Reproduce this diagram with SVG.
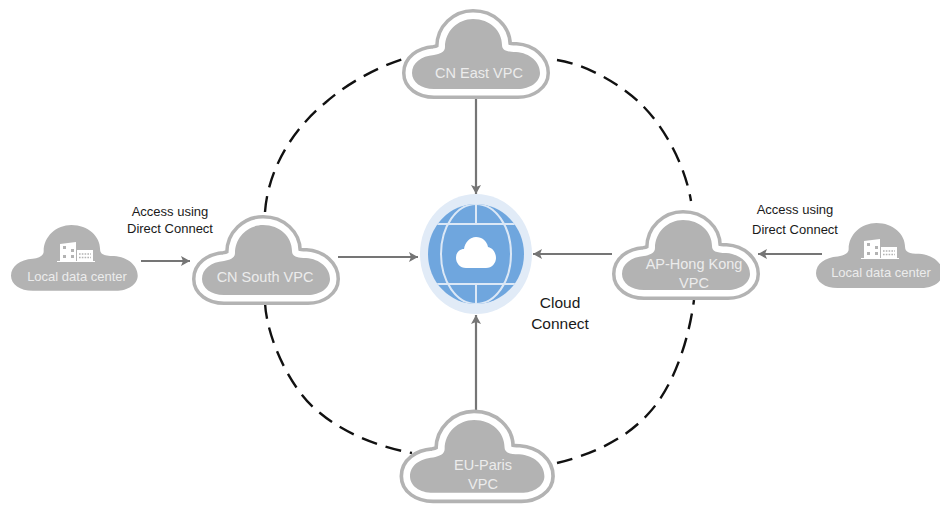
<svg xmlns="http://www.w3.org/2000/svg" width="940" height="505" viewBox="0 0 940 505">
<style>
.fill{fill:#b3b3b3}
.ring{fill:none;stroke:#b3b3b3;stroke-width:20;stroke-linejoin:round}
.gap{fill:none;stroke:#fff;stroke-width:13;stroke-linejoin:round}
.lbl{font-family:"Liberation Sans",Arial,sans-serif;fill:#ececec;text-anchor:middle}
.vpc{font-size:14.5px}
.ldc{font-size:13px}
.blk{font-family:"Liberation Sans",Arial,sans-serif;fill:#1a1a1a;text-anchor:middle;font-size:13px}
.cc{font-size:15.5px}
.arrow{fill:none;stroke:#757575;stroke-width:2.2;marker-end:url(#ah)}
.dash{fill:none;stroke:#111;stroke-width:2.4;stroke-dasharray:16 9}
.grid{fill:none;stroke:#dce8f6;stroke-width:2}
</style>
<defs>
<path id="cloud" d="M22,70C9,70 0,63 0,54C0,44 9,37 22,36C28,35 33,33 33,28C33,12 46,0 61,0C78,0 90,12 90,26C90,31 94,33 104,33C118,34 128,43 128,54C128,63 118,70 106,70Z"/>
<marker id="ah" markerWidth="11" markerHeight="12" refX="9" refY="5.5" orient="auto" markerUnits="userSpaceOnUse"><path d="M0,0.5L9,5.5L0,10.5L2,5.5Z" fill="#757575"/></marker>
<clipPath id="gc"><ellipse cx="476" cy="254" rx="48" ry="50"/></clipPath>
<g id="bldg"><path fill="#fff" d="M0,2L16,0V19H0ZM17,8H33V19H17ZM-3,19H35V20H-3Z"/><path fill="#b3b3b3" d="M3,4h3v3h-3zM11,7h3v3h-3zM3,13h3v3h-3zM11,13h3v3h-3z"/><path fill="none" stroke="#b3b3b3" stroke-width="1.6" stroke-dasharray="1.6 1.2" d="M19,12H31M19,15.5H31"/></g>
</defs>
<g id="connectors">
<path class="dash" d="M265,212C268,170 292,130 325,103C345,85 375,68 403,59"/>
<path class="dash" d="M557,60C590,65 625,88 642,105C665,128 685,165 691,201"/>
<path class="dash" d="M265,303C267,340 292,392 320,413C345,434 380,447 412,453"/>
<path class="dash" d="M557,463C590,455 625,440 649,413C672,388 688,345 694,300"/>
<path class="arrow" d="M476,98V194"/>
<path class="arrow" d="M338,257H418"/>
<path class="arrow" d="M141,261H190"/>
<path class="arrow" d="M612,254H533"/>
<path class="arrow" d="M822,254H758"/>
<path class="arrow" d="M476,410V315"/>
</g>
<g id="cloud-connect">
<ellipse cx="476" cy="254" rx="56" ry="60" fill="#e1ebf7"/>
<ellipse cx="476" cy="254" rx="48" ry="50" fill="#6fa6de"/>
<g clip-path="url(#gc)"><ellipse class="grid" cx="476" cy="254" rx="35" ry="50"/><path class="grid" d="M476,204V224M476,284V304M420,224H530M420,284H530"/></g>
<path fill="#fff" d="M466,268C460,268 456,263 456,258C456,252 460,249 464,249C465,242 470,237 476,237C482,237 487,241 488,247C493,248 496,253 496,258C496,263 492,268 486,268Z"/>
<text class="blk cc" x="560" y="308">Cloud</text>
<text class="blk cc" x="560" y="329">Connect</text>
</g>
<g id="cn-east">
<use href="#cloud" class="ring" transform="translate(412,19)"/>
<use href="#cloud" class="gap" transform="translate(412,19)"/>
<use href="#cloud" class="fill" transform="translate(412,19)"/>
<text class="lbl vpc" x="479" y="78">CN East VPC</text>
</g>
<g id="cn-south">
<use href="#cloud" class="ring" transform="translate(202,225)"/>
<use href="#cloud" class="gap" transform="translate(202,225)"/>
<use href="#cloud" class="fill" transform="translate(202,225)"/>
<text class="lbl vpc" x="265" y="282">CN South VPC</text>
</g>
<g id="ap-hong-kong">
<use href="#cloud" class="ring" transform="translate(622,220)"/>
<use href="#cloud" class="gap" transform="translate(622,220)"/>
<use href="#cloud" class="fill" transform="translate(622,220)"/>
<text class="lbl vpc" x="694" y="269">AP-Hong Kong</text>
<text class="lbl vpc" x="694" y="288">VPC</text>
</g>
<g id="eu-paris">
<use href="#cloud" class="ring" transform="translate(410,420) scale(1.05,1.04)"/>
<use href="#cloud" class="gap" transform="translate(410,420) scale(1.05,1.04)"/>
<use href="#cloud" class="fill" transform="translate(410,420) scale(1.05,1.04)"/>
<text class="lbl vpc" x="483" y="470">EU-Paris</text>
<text class="lbl vpc" x="483" y="489">VPC</text>
</g>
<g id="local-left">
<use href="#cloud" class="fill" transform="translate(11,225) scale(.99,.94)"/>
<use href="#bldg" transform="translate(60,242)"/>
<text class="lbl ldc" x="77" y="281">Local data center</text>
</g>
<g id="local-right">
<use href="#cloud" class="fill" transform="translate(816,223) scale(.99,.93)"/>
<use href="#bldg" transform="translate(864,239)"/>
<text class="lbl ldc" x="881" y="277">Local data center</text>
</g>
<g id="labels">
<text class="blk" x="170" y="216">Access using</text>
<text class="blk" x="170" y="233">Direct Connect</text>
<text class="blk" x="795" y="214">Access using</text>
<text class="blk" x="795" y="234">Direct Connect</text>
</g>
</svg>
